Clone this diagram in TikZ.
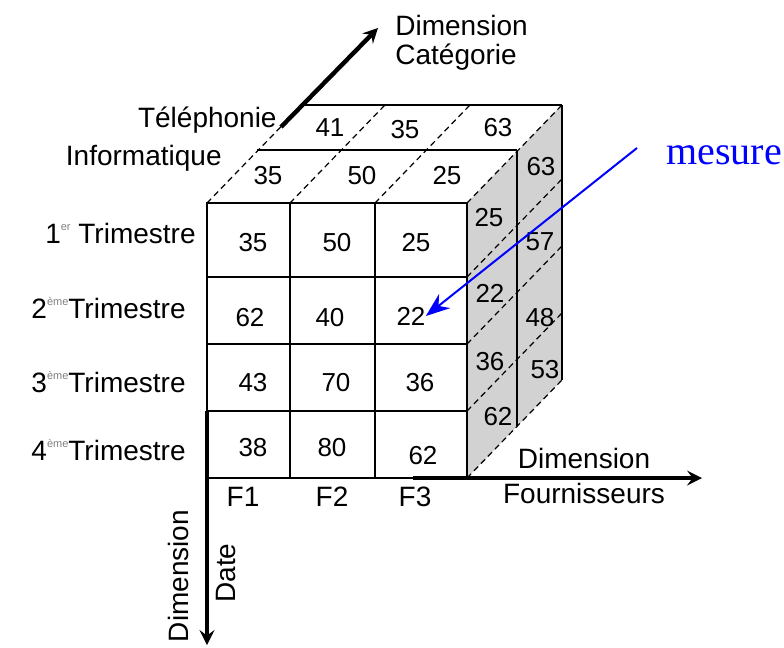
\documentclass[tikz,border=0pt]{standalone}
\usepackage{fontspec}
\setmainfont{Liberation Sans}
\newfontfamily\serifface{Liberation Serif}
\usepackage{tikz}
\usetikzlibrary{arrows, arrows.meta}
\newcommand{\rang}[1]{\raisebox{0.45em}{\fontsize{5.5}{6}\selectfont\color{gray}#1}}
\tikzstyle{num} = [font=\fontsize{13}{15}\selectfont, inner sep=0pt]
\tikzstyle{dimlabel} = [font=\fontsize{14}{17}\selectfont, inner sep=0pt]
\tikzstyle{grid} = [line width=1pt]
\tikzstyle{hidden} = [densely dashed, line width=0.6pt]
\tikzstyle{axis} = [line width=2.2pt,->,>=stealth]
\tikzstyle{pointer} = [blue, line width=1pt, -{Stealth[length=12pt,width=9pt]}]

\begin{document}
\begin{tikzpicture}[x=0.5pt, y=-0.5pt]
                \useasboundingbox (0,0) rectangle (784,648);

% ---------------------------------------------
% Corners of the cube
% ---------------------------------------------
                \coordinate (ftl) at (207,203);
                \coordinate (ftr) at (467,203);
                \coordinate (fbl) at (207,478);
                \coordinate (fbr) at (467,478);
                \coordinate (mtl) at (257,150);
                \coordinate (mtr) at (517,150);
                \coordinate (mbr) at (517,426);
                \coordinate (btl) at (302,105);
                \coordinate (btr) at (562,105);
                \coordinate (bbr) at (562,380);

% ---------------------------------------------
% Faces
% ---------------------------------------------
                \fill [white] (ftl) -- (btl) -- (btr) -- (ftr) -- cycle;
                \fill [gray!35] (ftr) -- (btr) -- (bbr) -- (fbr) -- cycle;

                % top face
                \draw [grid] (btl) -- (btr);
                \draw [grid] (mtl) -- (mtr);
                \draw [hidden] (ftl) -- (btl);
                \draw [hidden] (290,203) -- (385,105);
                \draw [hidden] (375,203) -- (470,105);
                \draw [hidden] (ftr) -- (btr);

                % right face
                \draw [grid] (btr) -- (bbr);
                \draw [grid] (mtr) -- (mbr);
                \draw [hidden] (467,277) -- (562,179);
                \draw [hidden] (467,344) -- (562,246);
                \draw [hidden] (467,411) -- (562,313);
                \draw [hidden] (fbr) -- (bbr);

                % front face
                \draw [grid] (ftl) rectangle (fbr);
                \draw [grid] (290,203) -- (290,478);
                \draw [grid] (375,203) -- (375,478);
                \draw [grid] (207,277) -- (467,277);
                \draw [grid] (207,344) -- (467,344);
                \draw [grid] (207,411) -- (467,411);

% ---------------------------------------------
% Values
% ---------------------------------------------
                \node (f11) [num] at (253,243) {35};
                \node (f12) [num] at (337,243) {50};
                \node (f13) [num] at (416,243) {25};
                \node (f21) [num] at (250,318) {62};
                \node (f22) [num] at (330,318) {40};
                \node (f23) [num] at (411,316) {22};
                \node (f31) [num] at (253,383) {43};
                \node (f32) [num] at (336,383) {70};
                \node (f33) [num] at (420,383) {36};
                \node (f41) [num] at (253,448) {38};
                \node (f42) [num] at (332,448) {80};
                \node (f43) [num] at (423,456) {62};

                \node (t11) [num] at (268,176) {35};
                \node (t12) [num] at (362,176) {50};
                \node (t13) [num] at (447,176) {25};
                \node (t21) [num] at (330,128) {41};
                \node (t22) [num] at (405,130) {35};
                \node (t23) [num] at (498,128) {63};

                \node (r11) [num] at (489,218) {25};
                \node (r12) [num] at (490,293) {22};
                \node (r13) [num] at (490,362) {36};
                \node (r14) [num] at (498,417) {62};
                \node (r21) [num] at (541,167) {63};
                \node (r22) [num] at (540,242) {57};
                \node (r23) [num] at (540,318) {48};
                \node (r24) [num] at (545,370) {53};

% ---------------------------------------------
% Members of the dimensions
% ---------------------------------------------
                \node (tel) [dimlabel, anchor=east] at (277,120) {Téléphonie};
                \node (info) [dimlabel, anchor=east] at (222,158) {Informatique};

                \node (trim1) [dimlabel, anchor=east] at (196,233) {1\rang{er} Trimestre};
                \node (trim2) [dimlabel, anchor=east] at (186,308) {2\rang{ème}Trimestre};
                \node (trim3) [dimlabel, anchor=east] at (186,382) {3\rang{ème}Trimestre};
                \node (trim4) [dimlabel, anchor=east] at (186,450) {4\rang{ème}Trimestre};

                \node (four1) [dimlabel] at (243,497) {F1};
                \node (four2) [dimlabel] at (332,497) {F2};
                \node (four3) [dimlabel] at (415,497) {F3};

% ---------------------------------------------
% Axes
% ---------------------------------------------
                \coordinate (catTail) at (281,127);
                \coordinate (catHead) at (378,28);
                \coordinate (dateTail) at (207,411);
                \coordinate (dateHead) at (207,645);
                \coordinate (fourTail) at (413,478);
                \coordinate (fourHead) at (702,478);

                \draw [axis] (catTail) -- (catHead);
                \draw [axis] (dateTail) -- (dateHead);
                \draw [axis] (fourTail) -- (fourHead);

                \node (catName) [dimlabel, anchor=west, align=left, font=\fontsize{14}{14.5}\selectfont] at (395,43) {Dimension\\Catégorie};
                \node (fourName) [dimlabel, align=center, font=\fontsize{14}{17.5}\selectfont] at (584,476) {Dimension\\Fournisseurs};
                \node (dateName1) [dimlabel, rotate=90] at (178,576) {Dimension};
                \node (dateName2) [dimlabel, rotate=90] at (226,573) {Date};

% ---------------------------------------------
% Measure
% ---------------------------------------------
                \node (mesure) [font=\serifface\fontsize{20}{24}\selectfont, text=blue, inner sep=0pt] at (724,155) {mesure};
                \coordinate (mesureTail) at (637,148);
                \draw [pointer] (mesureTail) -- (f23.east);

\end{tikzpicture}
\end{document}
